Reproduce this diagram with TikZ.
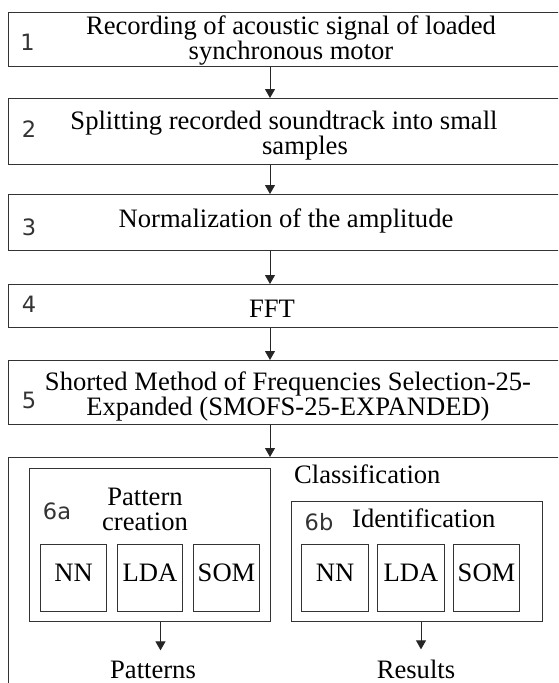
\documentclass[tikz,border=0pt]{standalone}
\usepackage{fontspec}
\setmainfont{Liberation Serif}
\newfontfamily\numfont{DejaVu Sans}
\usepackage{tikz}
\usetikzlibrary{arrows.meta}
\tikzset{
  bx/.style={draw=black!80,line width=1.1pt,rectangle,inner sep=0pt,anchor=north west},
  ar/.style={draw=black!85,line width=0.9pt,-{Triangle[length=9pt,width=10pt]}},
  txt/.style={inner sep=0pt,align=center,font=\fontsize{26.6}{24.5}\selectfont},
  num/.style={inner sep=0pt,text=black!80,font=\numfont\fontsize{22.5}{22.5}\selectfont},
  alg/.style={bx,minimum height=67pt,font=\fontsize{26.6}{24.5}\selectfont,text depth=10pt}
}

\begin{document}
\begin{tikzpicture}[x=1pt,y=-1pt]
\useasboundingbox (0,0) rectangle (558,683);
\clip (0,0) rectangle (558,683);
\node[bx,minimum width=563pt,minimum height=54pt] (s1) at (7.5,12) {};
\node[bx,minimum width=563pt,minimum height=66pt] (s2) at (7.5,98) {};
\node[bx,minimum width=563pt,minimum height=56pt] (s3) at (7.5,194) {};
\node[bx,minimum width=563pt,minimum height=43pt] (s4) at (7.5,284) {};
\node[bx,minimum width=563pt,minimum height=64pt] (s5) at (7.5,360) {};
\node[bx,minimum width=563pt,minimum height=260pt] (cls) at (7.5,457) {};
\node[txt,anchor=north] (t1) at (291,16) {Recording of acoustic signal of loaded\\synchronous motor};
\node[num] (n1) at (27.5,42) {1};
\node[txt,anchor=north] (t2) at (284,111) {Splitting recorded soundtrack into small\\\hspace*{42pt}samples};
\node[num] (n2) at (29,129.5) {2};
\node[txt,anchor=base] (t3) at (286,227) {Normalization of the amplitude};
\node[num] (n3) at (29,227.5) {3};
\node[txt,anchor=base] (t4) at (272,317) {FFT};
\node[num] (n4) at (29,304) {4};
\node[txt,anchor=north] (t5) at (288,372) {Shorted Method of Frequencies Selection-25-\\Expanded (SMOFS-25-EXPANDED)};
\node[num] (n5) at (29,400.5) {5};
\coordinate (ax) at (270,0);
\draw[ar] (s1.south -| ax) -- (s2.north -| ax);
\draw[ar] (s2.south -| ax) -- (s3.north -| ax);
\draw[ar] (s3.south -| ax) -- (s4.north -| ax);
\draw[ar] (s4.south -| ax) -- (s5.north -| ax);
\draw[ar] (s5.south -| ax) -- (cls.north -| ax);
\node[txt,anchor=base west] (ttl) at (294,483) {Classification};
\node[bx,minimum width=241pt,minimum height=153pt] (pc) at (29,468) {};
\node[txt,anchor=north] (tpc) at (145,488) {Pattern\\creation};
\node[num] (n6a) at (57,511) {6a};
\node[alg,minimum width=66pt] (pnn) at (40,544) {NN};
\node[alg,minimum width=65pt] (plda) at (117,544) {LDA};
\node[alg,minimum width=66pt] (psom) at (193,544) {SOM};
\node[bx,minimum width=251pt,minimum height=120pt] (idf) at (291,501) {};
\node[txt,anchor=base west] (tid) at (352,527) {Identification};
\node[num] (n6b) at (319,522.5) {6b};
\node[alg,minimum width=67pt] (inn) at (301,544) {NN};
\node[alg,minimum width=67pt] (ilda) at (377,544) {LDA};
\node[alg,minimum width=66pt] (isom) at (453,544) {SOM};
\node[txt,anchor=base] (pat) at (153,678) {Patterns};
\node[txt,anchor=base] (res) at (416,678) {Results};
\coordinate (pa) at (160.5,0); \coordinate (ra) at (421,0);
\draw[ar,shorten >=10pt] (pc.south -| pa) -- (pat.north -| pa);
\draw[ar,shorten >=10pt] (idf.south -| ra) -- (res.north -| ra);
\end{tikzpicture}
\end{document}
